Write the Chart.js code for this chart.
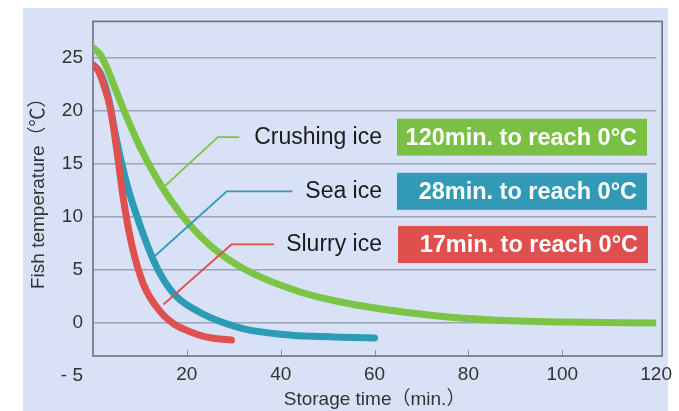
<!DOCTYPE html>
<html>
<head>
<meta charset="utf-8">
<script src="https://cdn.jsdelivr.net/npm/chart.js@4/dist/chart.umd.min.js"></script>
<style>
  html, body { margin: 0; padding: 0; background: #ffffff; }
  #wrap { width: 679px; height: 411px; }
</style>
</head>
<body>
<div id="wrap"><canvas id="chart" width="679" height="411"></canvas></div>
<script>
// Fish cooling curves: temperature (°C) against storage time (min.)
const seriesNames = ['Crushing ice', 'Sea ice', 'Slurry ice'];
const reachMinutes = [120, 28, 17];

const crushingTime = [0, 1.5, 3, 4.8, 6.9, 10, 14.3, 19.2, 25.5, 32.6, 44, 52, 61, 73.5, 85, 100, 120];
const crushingTemp = [25.9, 25.3, 24.0, 22.0, 19.7, 16.6, 13.1, 10.0, 7.1, 5.0, 2.95, 2.05, 1.35, 0.67, 0.3, 0.1, 0];

const seaTime = [0, 1.5, 2.5, 3.7, 4.8, 7.2, 10.1, 12.9, 15, 18, 22.8, 28, 32.6, 40, 46.7, 60];
const seaTemp = [24.3, 23.6, 22.5, 20.4, 17.7, 13.1, 9.1, 5.9, 4.1, 2.4, 1.0, 0, -0.6, -1.05, -1.25, -1.4];

const slurryTime = [0, 1.2, 2.3, 3.7, 5.1, 6.5, 8.3, 10.8, 14.3, 17, 19.5, 22.8, 26, 29.5];
const slurryTemp = [24.3, 23.7, 22.4, 20.2, 16.2, 11.6, 7.3, 3.6, 1.1, 0, -0.6, -1.15, -1.45, -1.6];

const xTickValues = [20, 40, 60, 80, 100, 120];
const yTickValues = [-5, 0, 5, 10, 15, 20, 25];
const yTickLabels = ['- 5', '0', '5', '10', '15', '20', '25'];

const lineColors = ['#7cc444', '#2c9cb6', '#e0504f'];
const boxColors = ['#79c045', '#3299b7', '#de4f4d'];

const FONT = '"Liberation Sans", Arial, "Noto Sans CJK JP", sans-serif';

const toPoints = (ts, vs) => ts.map((t, i) => ({ x: t, y: vs[i] }));

// Leader lines (data coordinates) and the label/box column to their right
const calloutLayout = [
  { from: [15.3, 12.9], bend: [26.6, 17.5], end: 31.2, boxLeft: 397 },
  { from: [12.9, 6.2],  bend: [28.5, 12.4], end: 42.5, boxLeft: 397 },
  { from: [15.0, 1.75], bend: [29.5, 7.4],  end: 38.6, boxLeft: 398 }
];

const panelPlugin = {
  id: 'panel',
  beforeDraw(chart) {
    const { ctx, width, height } = chart;
    ctx.save();
    ctx.fillStyle = '#ffffff';
    ctx.fillRect(0, 0, width, height);
    ctx.fillStyle = '#d9e1f7';
    ctx.fillRect(23, 8, 645, height - 8);
    ctx.restore();
  }
};

const framePlugin = {
  id: 'frame',
  beforeDatasetsDraw(chart) {
    const { ctx, chartArea: a, scales: { x } } = chart;
    ctx.save();
    ctx.strokeStyle = '#8c91a0';
    ctx.lineWidth = 1;
    xTickValues.slice(0, -1).forEach(v => {
      const px = Math.round(x.getPixelForValue(v)) + 0.5;
      ctx.beginPath();
      ctx.moveTo(px, a.bottom);
      ctx.lineTo(px, a.bottom - 6);
      ctx.stroke();
    });
    ctx.strokeStyle = '#6c7181';
    ctx.lineWidth = 1.6;
    ctx.strokeRect(a.left, a.top, a.right + 6 - a.left, a.bottom - a.top);
    ctx.restore();
  }
};

const calloutPlugin = {
  id: 'callouts',
  afterDatasetsDraw(chart) {
    const { ctx, scales: { x, y } } = chart;
    ctx.save();
    calloutLayout.forEach((c, i) => {
      const x0 = x.getPixelForValue(c.from[0]), y0 = y.getPixelForValue(c.from[1]);
      const x1 = x.getPixelForValue(c.bend[0]), y1 = y.getPixelForValue(c.bend[1]);
      const x2 = x.getPixelForValue(c.end);
      ctx.strokeStyle = lineColors[i];
      ctx.lineWidth = 1.8;
      ctx.lineJoin = 'miter';
      ctx.beginPath();
      ctx.moveTo(x0, y0);
      ctx.lineTo(x1, y1);
      ctx.lineTo(x2, y1);
      ctx.stroke();

      ctx.textAlign = 'right';
      ctx.textBaseline = 'middle';
      ctx.fillStyle = '#1c1c1c';
      ctx.font = '23px ' + FONT;
      ctx.fillText(seriesNames[i], 382, y1);

      ctx.fillStyle = boxColors[i];
      ctx.fillRect(c.boxLeft, y1 - 18.5, 250, 37);
      ctx.fillStyle = '#ffffff';
      ctx.font = 'bold 23.5px ' + FONT;
      ctx.fillText(reachMinutes[i] + 'min. to reach 0°C', c.boxLeft + 240, y1 + 1);
    });
    ctx.restore();
  }
};

const lineStyle = (i) => ({
  borderColor: lineColors[i],
  backgroundColor: lineColors[i],
  borderWidth: 7,
  borderCapStyle: 'round',
  borderJoinStyle: 'round',
  pointRadius: 0,
  cubicInterpolationMode: 'monotone',
  fill: false
});

new Chart(document.getElementById('chart'), {
  type: 'line',
  data: {
    datasets: [
      { label: seriesNames[0], data: toPoints(crushingTime, crushingTemp), order: 3, ...lineStyle(0) },
      { label: seriesNames[1], data: toPoints(seaTime, seaTemp), order: 2, ...lineStyle(1) },
      { label: seriesNames[2], data: toPoints(slurryTime, slurryTemp), order: 1, ...lineStyle(2) }
    ]
  },
  options: {
    responsive: false,
    animation: false,
    devicePixelRatio: 1,
    layout: { padding: { left: 0, top: 14, right: 19, bottom: 0 } },
    plugins: { legend: { display: false }, tooltip: { enabled: false } },
    scales: {
      x: {
        type: 'linear',
        min: 0,
        max: 120,
        afterBuildTicks: (axis) => { axis.ticks = xTickValues.map(v => ({ value: v })); },
        afterFit: (axis) => { axis.height = 55; },
        grid: { display: true, drawOnChartArea: false, drawTicks: false },
        border: { display: false },
        ticks: {
          autoSkip: false,
          maxRotation: 0,
          padding: 7,
          color: '#333333',
          font: { family: FONT, size: 19 }
        },
        title: {
          display: true,
          text: 'Storage time（min.）',
          color: '#333333',
          font: { family: FONT, size: 19, lineHeight: 1 },
          padding: { top: 0, bottom: 1.5 }
        }
      },
      y: {
        type: 'linear',
        min: -3.1,
        max: 28.4,
        afterBuildTicks: (axis) => { axis.ticks = yTickValues.map(v => ({ value: v })); },
        afterFit: (axis) => { axis.width = 93; },
        grid: {
          drawTicks: false,
          lineWidth: 1.5,
          color: (ctx) => (ctx.tick && ctx.tick.value < -3.1) ? 'rgba(0,0,0,0)' : '#9ea3b3'
        },
        border: { display: false },
        ticks: {
          autoSkip: false,
          padding: 10,
          color: '#333333',
          font: { family: FONT, size: 19 },
          callback: (value) => {
            const i = yTickValues.indexOf(value);
            return i >= 0 ? yTickLabels[i] : '';
          }
        },
        title: {
          display: true,
          text: 'Fish temperature（℃）',
          color: '#333333',
          font: { family: FONT, size: 19, lineHeight: 1 },
          padding: { top: 29, bottom: 0 }
        }
      }
    }
  },
  plugins: [panelPlugin, framePlugin, calloutPlugin]
});
</script>
</body>
</html>
